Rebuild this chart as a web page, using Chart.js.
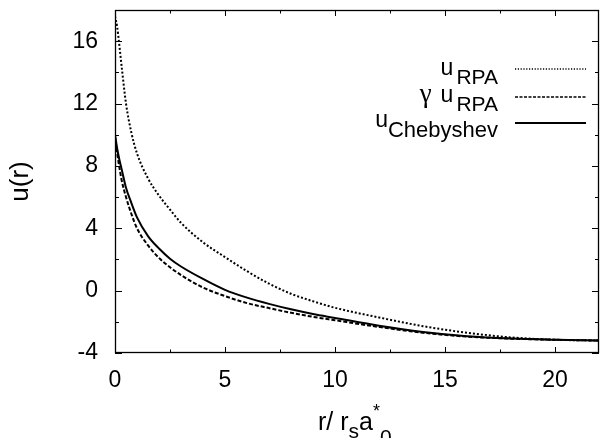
<!DOCTYPE html>
<html>
<head>
<meta charset="utf-8">
<script src="https://cdn.jsdelivr.net/npm/chart.js@4/dist/chart.umd.min.js"></script>
<style>
  html, body { margin: 0; padding: 0; background: #fff; }
  #wrap { width: 600px; height: 438px; }
</style>
</head>
<body>
<div id="wrap"><canvas id="chart-u"></canvas></div>
<script>
// r / r_s a*_0
const r_vals = [0, 0.1, 0.2, 0.3, 0.5, 0.75, 1, 1.5, 2, 2.5, 3, 4, 5, 6, 7, 8, 9, 10, 12, 14, 16, 18, 20, 22];
const u_rpa = [17.6, 16.9, 15.7, 14.4, 12.0, 10.1, 8.8, 7.2, 6.1, 5.2, 4.35, 3.1, 2.15, 1.25, 0.45, -0.2, -0.68, -1.1, -1.72, -2.28, -2.7, -3.0, -3.15, -3.2];
const u_gamma = [9.9, 8.8, 7.9, 7.1, 6.0, 4.9, 4.0, 2.9, 2.1, 1.5, 1.0, 0.2, -0.35, -0.8, -1.12, -1.42, -1.68, -1.9, -2.33, -2.7, -2.95, -3.08, -3.15, -3.2];
const u_cheb = [10.0, 9.1, 8.4, 7.8, 6.6, 5.6, 4.7, 3.5, 2.7, 2.05, 1.55, 0.75, 0.05, -0.45, -0.85, -1.2, -1.5, -1.75, -2.25, -2.65, -2.92, -3.07, -3.15, -3.2];

const x_ticks = [0, 5, 10, 15, 20];
const x_minor = [2.5, 7.5, 12.5, 17.5];
const y_ticks = [-4, 0, 4, 8, 12, 16];
const y_minor = [-2, 2, 6, 10, 14];

const font_main = "'Liberation Sans', Arial, Helvetica, sans-serif";

function titik(ys) {
  return r_vals.map((r, i) => ({ x: r, y: ys[i] }));
}

// kotak + tick ke dalam
const frame_plugin = {
  id: "frame",
  afterDatasetsDraw(chart) {
    const { ctx, chartArea: a, scales } = chart;
    const sx = scales.x, sy = scales.y;
    ctx.save();
    ctx.strokeStyle = "#000";
    ctx.lineWidth = 1;
    ctx.beginPath();
    x_ticks.concat(x_minor).forEach((v) => {
      const len = x_ticks.includes(v) ? 6 : 3.5;
      const px = Math.round(sx.getPixelForValue(v)) + 0.5;
      ctx.moveTo(px, a.bottom);
      ctx.lineTo(px, a.bottom - len);
      ctx.moveTo(px, a.top);
      ctx.lineTo(px, a.top + len);
    });
    y_ticks.concat(y_minor).forEach((v) => {
      const len = y_ticks.includes(v) ? 7 : 4;
      const py = Math.round(sy.getPixelForValue(v)) + 0.5;
      ctx.moveTo(a.left, py);
      ctx.lineTo(a.left + len, py);
      ctx.moveTo(a.right, py);
      ctx.lineTo(a.right - len, py);
    });
    ctx.stroke();
    ctx.lineWidth = 1.3;
    ctx.strokeRect(a.left + 0.5, a.top + 0.5, a.width - 1, a.height - 1);
    ctx.restore();
  },
};

// gambar teks dengan subscript/superscript
function tulis(ctx, parts, x, align) {
  let total = 0;
  parts.forEach((p) => {
    ctx.font = p.size + "px " + (p.family || font_main);
    p.w = ctx.measureText(p.t).width + (p.gap || 0);
    total += p.w;
  });
  let cx = align === "right" ? x - total : x;
  parts.forEach((p) => {
    ctx.font = p.size + "px " + (p.family || font_main);
    ctx.fillText(p.t, cx, p.y);
    cx += p.w;
  });
}

const legend_plugin = {
  id: "legendCustom",
  afterDraw(chart) {
    const { ctx } = chart;
    ctx.save();
    ctx.fillStyle = "#000";
    ctx.textBaseline = "alphabetic";
    const rx = 498;
    tulis(ctx, [{ t: "u", size: 23, y: 75, gap: 3 }, { t: "RPA", size: 21, y: 84 }], rx, "right");
    tulis(ctx, [{ t: "\u03b3", size: 27, y: 102, gap: 9, family: "'Liberation Serif', serif" }, { t: "u", size: 23, y: 102, gap: 3 }, { t: "RPA", size: 21, y: 111 }], rx, "right");
    tulis(ctx, [{ t: "u", size: 23, y: 127 }, { t: "Chebyshev", size: 22, y: 137 }], rx, "right");

    const gaya = [
      { y: 69, dash: [1.2, 1.6], w: 1.3 },
      { y: 97, dash: [3, 1.5], w: 1.5 },
      { y: 123, dash: [], w: 2 },
    ];
    ctx.strokeStyle = "#000";
    gaya.forEach((g) => {
      ctx.beginPath();
      ctx.setLineDash(g.dash);
      ctx.lineWidth = g.w;
      ctx.moveTo(515, g.y);
      ctx.lineTo(586, g.y);
      ctx.stroke();
    });
    ctx.setLineDash([]);

    // judul sumbu x
    tulis(ctx, [
      { t: "r/ r", size: 25, y: 430 },
      { t: "s", size: 21, y: 438 },
      { t: "a", size: 25, y: 430 },
      { t: "*", size: 18, y: 417 },
      { t: "0", size: 21, y: 444 },
    ], 318, "left");
    ctx.restore();
  },
};

const ctx = document.getElementById("chart-u");
const chart = new Chart(ctx, {
  type: "line",
  data: {
    datasets: [
      {
        label: "u_RPA",
        data: titik(u_rpa),
        borderColor: "#000",
        borderWidth: 2,
        borderDash: [2, 2],
      },
      {
        label: "gamma u_RPA",
        data: titik(u_gamma),
        borderColor: "#000",
        borderWidth: 2,
        borderDash: [4, 2],
      },
      {
        label: "u_Chebyshev",
        data: titik(u_cheb),
        borderColor: "#000",
        borderWidth: 2,
      },
    ],
  },
  options: {
    responsive: true,
    maintainAspectRatio: false,
    animation: false,
    elements: { point: { radius: 0 }, line: { cubicInterpolationMode: "monotone" } },
    layout: { padding: { top: 10, right: 1, left: 0, bottom: 0 } },
    plugins: {
      legend: { display: false },
      tooltip: { enabled: false },
    },
    scales: {
      x: {
        type: "linear",
        min: 0,
        max: 22,
        grid: { display: false, drawTicks: false },
        border: { display: false },
        afterBuildTicks: (s) => { s.ticks = x_ticks.map((v) => ({ value: v })); },
        afterFit: (s) => {
          s.height = 85;
          s.paddingLeft = 0;
          s.paddingRight = 0;
        },
        ticks: {
          color: "#000",
          padding: 14,
          maxRotation: 0,
          font: { family: font_main, size: 23 },
        },
      },
      y: {
        type: "linear",
        min: -4,
        max: 18,
        grid: { display: false, drawTicks: false },
        border: { display: false },
        afterBuildTicks: (s) => { s.ticks = y_ticks.map((v) => ({ value: v })); },
        afterFit: (s) => {
          s.width = 115;
          s.paddingTop = 0;
          s.paddingBottom = 0;
        },
        title: {
          display: true,
          text: "u(r)",
          color: "#000",
          padding: { top: 5, bottom: 0 },
          font: { family: font_main, size: 26 },
        },
        ticks: {
          color: "#000",
          padding: 17,
          font: { family: font_main, size: 23 },
        },
      },
    },
  },
  plugins: [frame_plugin, legend_plugin],
});
</script>
</body>
</html>
